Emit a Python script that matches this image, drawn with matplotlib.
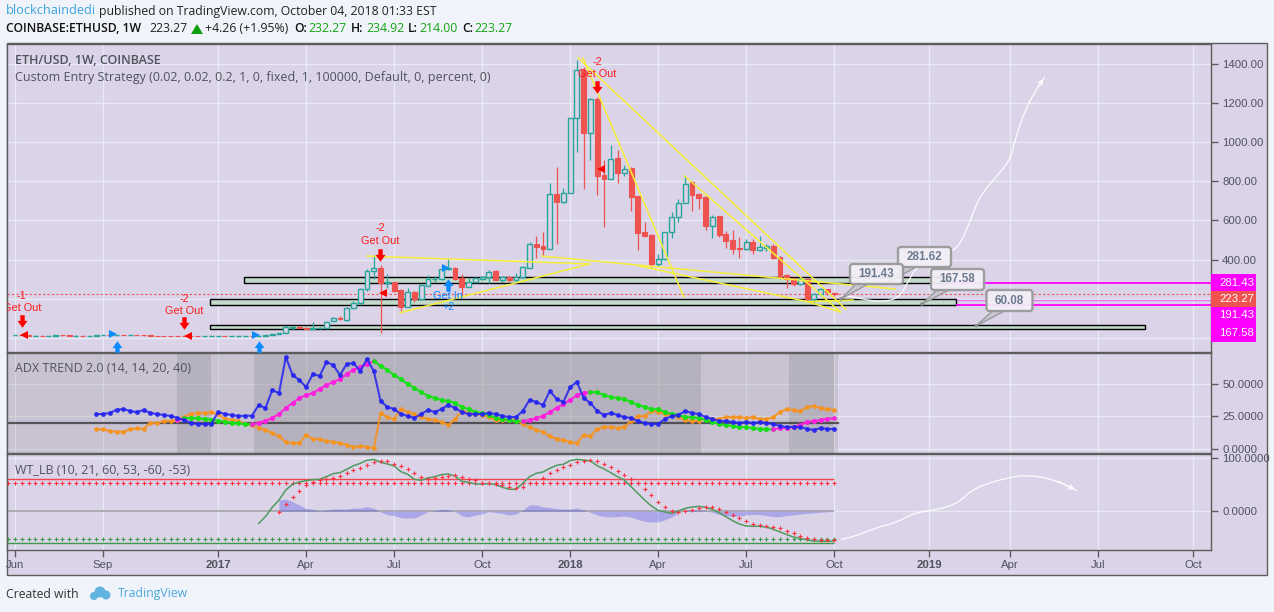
import numpy as np
import matplotlib
matplotlib.use('Agg')
import matplotlib.pyplot as plt
from matplotlib.path import Path
from matplotlib.patches import Rectangle, FancyBboxPatch, Polygon, Circle, PathPatch
from matplotlib.transforms import Affine2D

# weekly candles, index 0 is the week of Jun 06 2016
opens = [14, 15, 14, 12, 12.5, 11, 11.3, 13, 12.8, 11.5, 12, 11.8, 12.2, 13.5, 14, 13.7, 13.9, 13.5, 13.8, 13.2,
         13, 11, 10.7, 10, 9.8, 9.7, 9.5, 9.2, 8.8, 9, 9.3, 10.5, 10.2, 10.4, 10.6, 11.5, 11.2, 12, 14, 18,
         26, 52, 56, 53, 47, 50, 53, 87, 102, 92, 153, 178, 250, 342, 357, 280, 287, 245, 160, 235,
         200, 267, 302, 301, 352, 357, 305, 261, 287, 300, 312, 340, 297, 310, 298, 310, 357, 480, 470, 454,
         735, 695, 741, 1122, 1367, 1047, 1219, 830, 811, 918, 843, 867, 725, 540, 525, 380, 403, 540, 617, 690,
         795, 735, 720, 573, 622, 530, 500, 460, 454, 490, 449, 460, 470, 413, 320, 306, 277, 301, 199, 224, 250, 232]
highs = [16, 16, 15, 13, 13, 12, 14, 14, 13, 13, 13, 12.5, 15, 15, 15, 15, 15, 15, 15, 14,
         14, 12, 11, 11, 10, 10, 10, 10, 9.5, 10, 11, 12, 11, 11, 12, 12.5, 13, 15, 20, 28,
         60, 60, 60, 55, 80, 56, 85, 105, 112, 160, 190, 255, 350, 423, 372, 325, 287, 250, 255, 240,
         272, 321, 318, 365, 403, 360, 325, 305, 312, 318, 345, 345, 312, 314, 332, 365, 490, 520, 540, 790,
         875, 765, 1122, 1420, 1384, 1225, 1230, 910, 985, 960, 885, 870, 727, 590, 530, 430, 540, 645, 710, 830,
         800, 738, 722, 630, 625, 545, 550, 515, 503, 505, 520, 480, 480, 420, 325, 310, 308, 303, 228, 255, 252, 235]
lows = [13, 13, 11, 11, 10.5, 10.5, 11, 12, 11, 11, 11, 11, 12, 13, 13, 13, 13, 13, 13, 12.5,
        10.5, 10, 9.5, 9.5, 9, 9, 8.5, 8.5, 8.5, 9, 9, 9.5, 10, 10, 10.5, 11, 11, 12, 14, 18,
        25, 48, 50, 45, 45, 48, 50, 85, 92, 88, 150, 170, 240, 300, 25, 255, 236, 138, 160, 185,
        198, 265, 285, 298, 345, 298, 210, 258, 285, 298, 282, 295, 285, 285, 292, 305, 357, 410, 420, 454,
        480, 690, 741, 950, 760, 910, 730, 565, 811, 793, 825, 650, 450, 515, 360, 365, 398, 510, 590, 690,
        650, 660, 552, 510, 515, 460, 430, 410, 450, 430, 445, 445, 405, 300, 255, 265, 270, 195, 175, 223, 218, 214]
closes = [15, 14, 12, 12.5, 11, 11.3, 13, 12.8, 11.5, 12, 11.8, 12.2, 13.5, 14, 13.7, 13.9, 13.5, 13.8, 13.2, 13,
          11, 10.7, 10, 9.8, 9.7, 9.5, 9.2, 8.8, 9, 9.3, 10.5, 10.2, 10.4, 10.6, 11.5, 11.2, 12, 14, 18, 26,
          57, 56, 52, 47, 52, 53, 82, 102, 96, 153, 178, 250, 342, 357, 280, 287, 241, 160, 234, 199,
          270, 302, 303, 352, 358, 300, 260, 287, 306, 312, 338, 297, 310, 297, 310, 362, 480, 465, 454, 735,
          695, 741, 1122, 1367, 1047, 1219, 826, 811, 913, 843, 864, 721, 537, 520, 377, 403, 540, 617, 690, 786,
          730, 714, 573, 619, 525, 495, 454, 452, 490, 449, 465, 470, 408, 313, 300, 275, 301, 199, 224, 251, 235, 223]

# ADX panel, first value belongs to week 12 (blue, orange) and week 24 (adx)
plus_di = [26.7, 26.7, 27.5, 30, 30.5, 29, 28.2, 29.8, 27.5, 26.7, 26, 25.2, 23.7, 22.1, 19.8, 19.1, 19.1, 19.1, 28.2, 26.7,
           26, 25.2, 25.4, 25.4, 33.6, 31.3, 45, 42.7, 70.2, 56.5, 52.7, 47.3, 57.3, 55.7, 66.4, 64.1, 56.5, 64.9, 65.6, 59.5,
           68.7, 59.5, 36.6, 32.1, 30.5, 26.7, 25.2, 23.7, 26.7, 29.8, 28.2, 30.5, 33.6, 31.3, 28.2, 26.7, 26.7, 26.7, 27.5, 26.7,
           25.2, 24.4, 24.4, 29, 37.4, 35.9, 33.6, 44.3, 38.2, 35.9, 47.3, 51.1, 38.9, 35.1, 29, 26, 27.5, 26, 24.4, 23.7,
           21.4, 19.8, 19.1, 19.1, 22.9, 25.2, 26, 29, 27.5, 26.7, 24.4, 22.9, 21.4, 21.4, 20.6, 19.8, 20.6, 19.8, 20.6, 19.8,
           19.1, 17.6, 16.8, 16.8, 16.8, 15.3, 14.5, 16, 15.3, 15.3]
minus_di = [15, 15, 13.7, 13.2, 13.2, 15, 15.8, 15.3, 20, 19.6, 21.4, 21.4, 22.4, 24.7, 26.7, 27.7, 27.5, 28, 26.7, 22.9,
            22.4, 21.4, 19, 18.3, 16, 14.5, 12.2, 9.9, 5.3, 4.6, 4.6, 10.7, 7.6, 7.6, 6.1, 5.3, 4.6, 3.1, 1.5, 2.3,
            1.5, 0.8, 27.5, 24.4, 22.9, 30.5, 28.2, 26.7, 24.4, 22.9, 22.1, 20.6, 18.3, 22.9, 29, 27.5, 26.7, 26, 24.4, 22.1,
            22.1, 22.1, 22.1, 19, 16.8, 14.5, 13, 9.9, 7.6, 6.9, 5.3, 4.6, 10.7, 9.9, 15.3, 16.8, 16.8, 16, 16.8, 21.4,
            25.2, 25.2, 29, 28.2, 26.7, 26, 24.4, 22.1, 21.4, 21.4, 23.7, 22.9, 22.9, 24.4, 24.4, 24.4, 23.7, 24.4, 22.9, 22.9,
            24.4, 28.2, 30.5, 29.8, 29, 32.1, 32.8, 31.3, 30.5, 29.8]
adx = [22.1, 23.4, 23.4, 23.4, 23, 22.5, 21.5, 21, 20, 19.5, 19, 18.8, 19.8, 21.4, 23.7, 26.7, 31.3, 35.1, 38.9, 41.2,
       42.7, 45.8, 48.9, 51.1, 53.4, 57.3, 60.3, 62.6, 64.9, 67.2, 63.4, 60.3, 56.5, 53.4, 49.6, 46.6, 43.5, 40.5, 38.9, 37.4,
       36.6, 35.1, 32.1, 30.5, 28.2, 27.5, 26, 23.7, 22.9, 22.1, 21.4, 21.2, 22.1, 23.7, 25.2, 28.2, 31.3, 34.4, 37.4, 41.2,
       42.7, 43.5, 43.3, 41.2, 39.7, 38.9, 38.2, 35.9, 33.6, 32.1, 30.5, 30.3, 28.2, 26.7, 26, 24.4, 24.2, 23.7, 22.1, 20.6,
       19.1, 18.3, 17.6, 16.8, 16.6, 16, 15.3, 15.1, 15, 16, 16.2, 16.8, 18.3, 20.6, 21.4, 22.1, 22.9, 23.7]
dark_spans = [(24, 29), (35.3, 101.3), (114.3, 121.0)]

# WT panel, wt1 starts at week 36, wt2 and the histogram at week 39
wt1 = [-22.7, -10, 7.5, 21.3, 40.2, 51, 55.3, 57.8, 59.7, 60.3, 65.4, 71, 72.9, 79.2, 86, 90.5, 96.2, 98, 92.4, 89.3,
       85.5, 74.8, 69.8, 60.3, 58.5, 62.9, 65.4, 69.2, 70.4, 66.6, 56.6, 54.7, 51.5, 51.5, 52.2, 50.3, 45.2, 41.5, 41.5, 52.8,
       65.4, 71.7, 74.2, 81.1, 86.8, 88.7, 95.6, 98, 96.8, 95, 86, 79.9, 72.9, 65.4, 59, 46.5, 33.9, 21.3, 10, 1.9,
       -1.3, -3.8, 0.6, 5.6, 8.1, 9.4, 7.5, 3.7, -2.6, -10.1, -17.6, -24, -27.7, -28.3, -28.3, -29.6, -34, -39, -44, -48.5,
       -51, -54, -56, -56.6, -56.6, -56]
wt2 = [-2, 13, 27.6, 39, 49.6, 54.7, 59, 60.3, 63.5, 66, 71.7, 77.3, 81, 86.8, 92.4, 94.3, 94.3, 89.9, 84.9, 79.2,
       71.7, 64, 61.6, 62.2, 64, 66.6, 67.9, 65.4, 61.6, 58.5, 52.8, 52.8, 51.5, 49.6, 46.5, 44.6, 45.2, 52.8, 54, 62.2,
       71.7, 78.6, 83, 86.8, 92.4, 94.9, 96.2, 94.3, 88.7, 83, 75.4, 67.9, 61.6, 52.8, 41.5, 30.2, 17, 7.5, 1.2, -1.9,
       0, 1.9, 5.6, 7.5, 7.5, 3.7, -1.9, -7.6, -13.3, -18.9, -24.6, -26.5, -28.3, -30.2, -32.1, -37.8, -41.6, -46.6, -51, -52.9,
       -54, -54.8, -54.8]
wt_hist = [21.4, 23.3, 18.2, 12, 5.7, 3.8, 0.6, 2.5, 4.4, 4.4, 4.4, 6.3, 6.3, 8.8, 5.7, -1.3, -6.3, -8.2, -12, -12.6,
           -12.6, -6.9, -0.6, 1.3, 3.8, 3.1, -0.6, -8.2, -10.7, -6.9, -5, -0.6, -2.5, -4.4, -6.9, -5, 2.5, 12, 12, 8.2,
           7.5, 5, 4.4, 4.4, 6.3, 2.5, -1.9, -6.9, -10, -10.5, -10, -9, -11, -15, -19, -20, -20, -16, -11, -3,
           2, 3, 3, 1, -2, -6, -8, -10, -9, -7, -6, -6, -8, -10, -10, -8, -7, -5, -4, -3, -2, -1, -0.5]

# tick positions as week index
xtick_weeks = [0, 13, 30, 43, 56, 69, 82, 95, 108, 121, 135, 147, 160, 174]
xtick_labels = ['Jun', 'Sep', '2017', 'Apr', 'Jul', 'Oct', '2018', 'Apr', 'Jul', 'Oct', '2019', 'Apr', 'Jul', 'Oct']
price_ticks = [0, 200, 400, 600, 800, 1000, 1200, 1400]
price_tick_labels = ['', '', '400.00', '600.00', '800.00', '1000.00', '1200.00', '1400.00']

# hand drawn things on the price pane: (week, price)
yellow_lines = [
    [(52, 418), (84.9, 378)],
    [(56.9, 129), (84.9, 378)],
    [(77.8, 418), (130, 250)],
    [(83.2, 1429), (122.7, 148)],
    [(83.9, 1429), (98.8, 209)],
    [(98.9, 827), (121.9, 134)],
    [(92.3, 367), (117.1, 185), (121.9, 133)],
    [(117.1, 185), (123.8, 194)],
]
zones = [(33.8, 138.1, 282, 312.8), (28.8, 139, 170, 197.4), (28.8, 166.9, 47.4, 64.8)]
sketch_week = [122.2, 125.7, 128.2, 130.6, 131.8, 133.5, 137.7, 139.4, 141, 142.4, 144.9, 147, 147.7, 149.2, 150.8, 152.1]
sketch_price = [219, 194, 185, 204, 281, 383, 434, 464, 587, 719, 821, 908, 1010, 1163, 1265, 1332]
sketch_wt_week = [122, 123.9, 127, 130.2, 132.8, 136.6, 139.4, 141.7, 146.7, 149.9, 153.7, 156.9]
sketch_wt = [-52.8, -48.5, -31.5, -21.5, -2.6, 3.8, 16.2, 44.5, 64.2, 68.5, 59, 38.9]

exit_arrows = [(1, 87), (25, 77), (53.9, 423), (86, 1281)]
exit_flags = [(1.3, 15), (25.5, 12), (54.4, 231), (86.5, 862)]
exit_text = [(1, 214, 153, '-1'), (25, 201, 138, '-2'), (53.9, 561, 495, '-2'), (86, 1408, 1347, '-2')]
entry_arrows = [(15, -46), (36, -46), (64, 270)]
entry_flags = [(14.5, 18), (35.6, 15), (63.7, 357)]

BG = '#dbd3e8'
PAGE = '#f0f3f9'
EDGE = '#5d5d5d'
GRID = '#e7ebf3'
TEAL = '#26a69a'
RED = '#ef5350'
TXT = '#4f535c'
W, H = 1274, 612

plt.rcParams['font.family'] = ['Liberation Sans', 'DejaVu Sans']
fig = plt.figure(figsize=(W / 100, H / 100), dpi=100, facecolor=PAGE)
PX = Affine2D().scale(1 / W, -1 / H).translate(0, 1) + fig.transFigure


def pane(top, bottom):
    a = fig.add_axes([7 / W, 1 - bottom / H, 1204 / W, (bottom - top) / H])
    a.set_facecolor(BG)
    a.set_xlim(-1.18, 176.66)
    a.yaxis.tick_right()
    a.tick_params(axis='y', length=5, width=1, color=EDGE, labelcolor=TXT, labelsize=8.2, pad=3)
    a.tick_params(axis='x', length=5, width=1, color=EDGE, labelcolor=TXT, labelsize=8.2, pad=2)
    a.set_xticks(xtick_weeks)
    a.grid(True, color=GRID, lw=1)
    a.set_axisbelow(True)
    for s in a.spines.values():
        s.set_color(EDGE)
        s.set_linewidth(1.0)
    return a


def sketch(a, xs, ys, z):
    # smooth brush stroke, the read points act as curve control points
    pts = list(zip(xs, ys))
    verts = [pts[0]]
    codes = [Path.MOVETO]
    for k in range(1, len(pts) - 1):
        mid = ((pts[k][0] + pts[k + 1][0]) / 2, (pts[k][1] + pts[k + 1][1]) / 2)
        verts += [pts[k], mid]
        codes += [Path.CURVE3, Path.CURVE3]
    verts.append(pts[-1])
    codes.append(Path.LINETO)
    a.add_patch(PathPatch(Path(verts, codes), fc='none', ec='white', lw=0.9, alpha=0.95, zorder=z))
    a.annotate('', xy=pts[-1], xytext=pts[-2],
               arrowprops=dict(arrowstyle='->', color='white', lw=0.9, mutation_scale=8), zorder=z)


fig.add_artist(Rectangle((7, 43), 1260, 532, transform=PX, fc=BG, ec=EDGE, lw=1.0, zorder=-1))
ax = pane(44, 352)
ax2 = pane(353, 453)
ax3 = pane(454, 550)
ax.set_ylim(-71.4, 1500)
ax2.set_ylim(-3.05, 73.3)
ax3.set_ylim(-73, 108.1)
ax.tick_params(axis='x', labelbottom=False, length=0)
ax2.tick_params(axis='x', labelbottom=False, length=0)
ax.set_yticks(price_ticks, price_tick_labels)
ax2.set_yticks([0, 25, 50], ['0.0000', '25.0000', '50.0000'])
ax3.set_yticks([0, 100], ['0.0000', '100.0000'])
ax3.set_xticklabels(xtick_labels)
for lab in ax3.get_xticklabels():
    if lab.get_text().startswith('20'):
        lab.set_fontweight('bold')

# price pane
for x0, x1, p0, p1 in zones:
    ax.add_patch(Rectangle((x0, p0), x1 - x0, p1 - p0, fc='#c3d9cc', ec='black', lw=1.0, zorder=2))
ax.axhline(223.27, color=RED, ls=(0, (2, 2)), lw=0.8, zorder=2)
ax.hlines(281.43, 138.1, 176.66, color='#ff00ff', lw=1.3, zorder=2)
ax.hlines(191.43, 139, 176.66, color='#ff00ff', lw=0.9, alpha=0.5, zorder=2)
ax.hlines(167.58, 139, 176.66, color='#ff00ff', lw=1.3, zorder=2)

weeks = np.arange(len(closes))
op, hi, lo, cl = map(np.array, (opens, highs, lows, closes))
up = cl >= op
col = np.where(up, TEAL, RED)
ax.vlines(weeks, lo, hi, colors=col, lw=0.9, zorder=3)
ax.bar(weeks[up], (cl - op)[up], bottom=op[up], width=0.72, facecolor=BG, edgecolor=TEAL, lw=1, zorder=3.1)
ax.bar(weeks[~up], (cl - op)[~up], bottom=op[~up], width=0.72, facecolor=RED, edgecolor=RED, lw=0.8, zorder=3.1)

for line in yellow_lines:
    xs, ys = zip(*line)
    ax.plot(xs, ys, color='#f7f03a', lw=1.1, zorder=4)

arrow_down = Path([(-0.35, 1), (0.35, 1), (0.35, 0.1), (0.8, 0.1), (0, -1), (-0.8, 0.1), (-0.35, 0.1), (-0.35, 1)], closed=True)
arrow_up = Path([(-0.35, -1), (0.35, -1), (0.35, -0.1), (0.8, -0.1), (0, 1), (-0.8, -0.1), (-0.35, -0.1), (-0.35, -1)], closed=True)
ax.plot(*zip(*exit_arrows), ls='', marker=arrow_down, ms=9, color='#ff0000', mew=0, zorder=5)
ax.plot(*zip(*exit_flags), ls='', marker='<', ms=6, color='#ff0000', mew=0, zorder=5)
ax.plot(*zip(*entry_arrows), ls='', marker=arrow_up, ms=9, color='#0a8cff', mew=0, zorder=5)
ax.plot(*zip(*entry_flags), ls='', marker='>', ms=6, color='#0a8cff', mew=0, zorder=5)
for wk, p_num, p_txt, num in exit_text:
    ax.text(wk, p_num, num, color='#ff1a1a', fontsize=7.8, ha='center', va='center', clip_on=True, zorder=5)
    ax.text(wk, p_txt, 'Get Out', color='#ff1a1a', fontsize=7.8, ha='center', va='center', clip_on=True, zorder=5)
ax.text(64, 214, 'Get In', color='#0a8cff', fontsize=7.8, ha='center', va='center', zorder=5)
ax.text(64, 158, '+2', color='#0a8cff', fontsize=7.8, ha='center', va='center', zorder=5)
sketch(ax, sketch_week, sketch_price, 4.5)

# adx pane
ax2.axvspan(-1.18, 121.5, fc='#808080', alpha=0.2, lw=0, zorder=1)
for s0, s1 in dark_spans:
    ax2.axvspan(s0, s1, fc='#808080', alpha=0.25, lw=0, zorder=1)
ax2.axhline(20, xmax=(121.5 + 1.18) / 177.84, color='#2f2f2f', lw=1.6, alpha=0.75, zorder=2)

di_weeks = np.arange(12, 12 + len(plus_di))
ax2.plot(di_weeks, minus_di, color='#f7931e', lw=1.5, marker='o', ms=2.4, alpha=0.9, zorder=3)
adx_weeks = np.arange(24, 24 + len(adx))
adx_arr = np.array(adx)
for k in range(len(adx) - 1):
    c = '#ff1fe0' if adx_arr[k + 1] > adx_arr[k] else '#16e016'
    ax2.plot(adx_weeks[k:k + 2], adx_arr[k:k + 2], color=c, lw=1.5, marker='o', ms=2.4, alpha=0.95, zorder=3.2)
ax2.plot(di_weeks, plus_di, color='#2424f0', lw=1.5, marker='o', ms=2.5, alpha=0.85, zorder=3.4)

# wave trend pane
ends = (-1.18, 121)
ax3.hlines(60, *ends, color='#f0474a', lw=1, zorder=2)
ax3.hlines(-60, *ends, color='#3d9a4a', lw=1, zorder=2)
ax3.hlines(0, *ends, color='#a3a3a8', lw=1.2, zorder=2)
level_weeks = np.arange(-1, 122)
ax3.plot(level_weeks, np.full(len(level_weeks), 53), ls='', marker='+', ms=2.8, mew=0.8, color='#ff3040', zorder=3)
ax3.plot(level_weeks, np.full(len(level_weeks), -53), ls='', marker='+', ms=2.8, mew=0.8, color='#3d9a4a', zorder=3)
hist_weeks = np.arange(39, 39 + len(wt_hist))
ax3.fill_between(hist_weeks, 0, wt_hist, color='#3232e6', alpha=0.28, lw=0, zorder=2.5)
ax3.plot(np.arange(36, 36 + len(wt1)), wt1, color='#4f9a5f', lw=1.1, zorder=3.2)
ax3.plot(np.arange(39, 39 + len(wt2)), wt2, ls='', marker='+', ms=2.8, mew=0.8, color='#ff3040', zorder=3.4)
sketch(ax3, sketch_wt_week, sketch_wt, 4)

# pane titles
fig.text(15, 61, 'ETH/USD, 1W, COINBASE', transform=PX, family='Open Sans', weight='semibold', fontsize=9, color=TXT, va='center')
fig.text(15, 77, 'Custom Entry Strategy (0.02, 0.02, 0.2, 1, 0, fixed, 1, 100000, Default, 0, percent, 0)',
         transform=PX, family='Open Sans', fontsize=9, color=TXT, va='center')
fig.text(15, 369, 'ADX TREND 2.0 (14, 14, 20, 40)', transform=PX, family='Open Sans', fontsize=9, color=TXT, va='center')
fig.text(15, 470, 'WT_LB (10, 21, 60, 53, -60, -53)', transform=PX, family='Open Sans', fontsize=9, color=TXT, va='center')

# stacked price labels on the scale
scale_boxes = [(274, 291, '#ff00ff', '281.43'), (291, 307, '#ef5350', '223.27'),
               (307, 324, '#ff00ff', '191.43'), (324, 342, '#ff00ff', '167.58')]
for y0, y1, c, label in scale_boxes:
    fig.add_artist(Rectangle((1211, y0), 45, y1 - y0, transform=PX, fc=c, ec='none', zorder=5))
    fig.text(1219, (y0 + y1) / 2, label, transform=PX, color='white', fontsize=8.2, va='center', zorder=6)

# callouts
callouts = [(898, 247, 53, 20, 889.5, 281.7, '281.62'), (850, 264, 53, 20, 841, 299, '191.43'),
            (931, 269, 53, 21, 922, 304, '167.58'), (986.5, 290, 46, 21, 976.4, 325.7, '60.08')]
for bx, by, bw, bh, tx, ty, label in callouts:
    fig.add_artist(Polygon([(bx + 6, by + bh), (bx + 18, by + bh), (tx, ty)], transform=PX, fc='#c9c5d3', ec='#9a9a9a', lw=1, zorder=7))
    fig.add_artist(FancyBboxPatch((bx + 2, by + 2), bw - 4, bh - 4, boxstyle='round,pad=2,rounding_size=3', transform=PX,
                                  fc='#f3f0f8', ec='#989898', lw=1.7, alpha=0.93, zorder=8))
    fig.add_artist(Circle((tx, ty), 1.8, transform=PX, fc='#8c8c8c', ec='none', zorder=8))
    fig.text(bx + bw / 2, by + bh / 2, label, transform=PX, color='#6c7a8e', fontsize=8.4, weight='bold',
             ha='center', va='center', zorder=9)

# header
fig.text(6, 11, 'blockchaindedi', transform=PX, family='Open Sans', color='#3ba4dd', fontsize=9.2, va='center')
fig.text(99, 11, 'published on TradingView.com, October 04, 2018 01:33 EST', transform=PX, family='Open Sans',
         color='#222222', fontsize=8.8, va='center')
fig.text(6, 29, 'COINBASE:ETHUSD, 1W', transform=PX, family='Open Sans', weight='semibold', color='#111111', fontsize=8.85, va='center')
fig.text(149, 29, '223.27', transform=PX, family='Open Sans', color='#222222', fontsize=8.8, va='center')
fig.add_artist(Polygon([(191, 34), (203, 34), (197, 24)], transform=PX, fc='#0d9f0d', ec='none'))
fig.text(205, 29, '+4.26 (+1.95%)', transform=PX, family='Open Sans', color='#222222', fontsize=8.8, va='center')
ohlc_heads = [(294, 'O:'), (351, 'H:'), (408, 'L:'), (462, 'C:')]
ohlc_vals = [(308, '232.27'), (366, '234.92'), (419, '214.00'), (474, '223.27')]
for x, t in ohlc_heads:
    fig.text(x, 29, t, transform=PX, family='Open Sans', weight='semibold', color='#111111', fontsize=8.8, va='center')
for x, t in ohlc_vals:
    fig.text(x, 29, t, transform=PX, family='Open Sans', color='#14a514', fontsize=8.8, va='center')

# footer
fig.text(6, 594, 'Created with', transform=PX, family='Open Sans', color='#333333', fontsize=8.8, va='center')
for cx, cy, r in [(94, 596, 4), (100, 592, 5.5), (106, 595, 4.5)]:
    fig.add_artist(Circle((cx, cy), r, transform=PX, fc='#62b4e0', ec='none'))
fig.text(118, 594, 'TradingView', transform=PX, family='Open Sans', color='#4aa8dc', fontsize=8.8, va='center')

fig.savefig('out.png', dpi=100, facecolor=PAGE)
